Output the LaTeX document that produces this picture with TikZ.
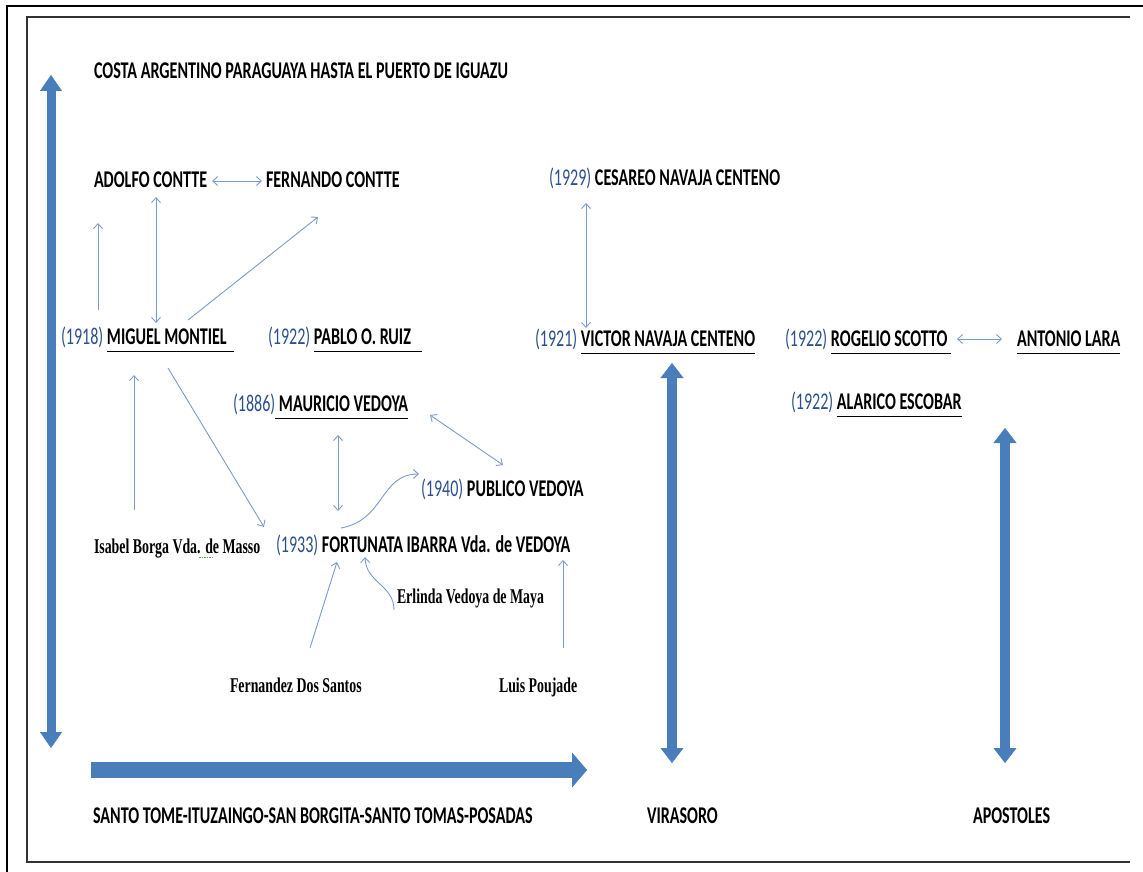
\documentclass[tikz,border=0pt]{standalone}
\usepackage{fontspec}
\setmainfont{Carlito}[FakeStretch=0.67]
\newfontfamily\timesf{Liberation Serif}[FakeStretch=0.66]
\usetikzlibrary{arrows.meta,calc}
\definecolor{yearblue}{RGB}{45,80,140}
\definecolor{thinblue}{RGB}{125,155,200}
\definecolor{thickblue}{RGB}{74,126,187}
\definecolor{spellgreen}{RGB}{90,170,90}
\newcommand\yr[1]{{\mdseries\color{yearblue}#1}}
\newcommand\undl[1]{\setbox0\hbox{#1}\rlap{\rule[-8pt]{\wd0}{1pt}}\box0}
\tikzset{
  lbl/.style={anchor=base west, inner sep=0pt, outer sep=0pt, font=\fontsize{24}{26}\selectfont\bfseries},
  ser/.style={anchor=base west, inner sep=0pt, outer sep=0pt, font=\fontsize{21}{23}\selectfont\timesf\bfseries},
  thinarr/.style={draw=thinblue, line width=0.9pt, -{Straight Barb[length=5pt,width=9pt]}},
  thinboth/.style={draw=thinblue, line width=0.9pt, {Straight Barb[length=5pt,width=9pt]}-{Straight Barb[length=5pt,width=9pt]}},
  bigboth/.style={draw=thickblue, line width=10pt, {Triangle[width=23pt,length=15pt,line width=0.4pt]}-{Triangle[width=23pt,length=15pt,line width=0.4pt]}},
  leftboth/.style={draw=thickblue, line width=9pt, {Triangle[width=22pt,length=16pt,line width=0.4pt]}-{Triangle[width=22pt,length=16pt,line width=0.4pt]}},
  bigright/.style={draw=thickblue, line width=16pt, -{Triangle[width=35pt,length=15pt,line width=0.4pt]}},
  frame/.style={line width=1.2pt, black}
}
\begin{document}
\begin{tikzpicture}[x=1pt,y=-1pt]
\useasboundingbox (0,0) rectangle (1143,872);
% frames
\draw[frame] (7,872) -- (7,6) -- (1143,6);
\draw[line width=1.8pt, black!80] (1130,17) -- (27,17) -- (27,862) -- (1130,862);

% labels
\node[lbl] (costa) at (94,79) {COSTA ARGENTINO PARAGUAYA HASTA EL PUERTO DE IGUAZU};
\node[lbl] (adolfo) at (94,187) {ADOLFO CONTTE};
\node[lbl] (fernando) at (266,187) {FERNANDO CONTTE};
\node[lbl] (cesareo) at (549,185) {\yr{(1929)} CESAREO NAVAJA CENTENO};
\node[lbl] (miguel) at (61,344) {\yr{(1918)} \undl{MIGUEL MONTIEL\ \ }};
\node[lbl] (pablo) at (268,344) {\yr{(1922)} \undl{PABLO O. RUIZ\ \ \ }};
\node[lbl] (victor) at (535,346) {\yr{(1921)} \undl{VICTOR NAVAJA CENTENO}};
\node[lbl] (rogelio) at (785,346) {\yr{(1922)} \undl{ROGELIO SCOTTO\ }};
\node[lbl] (antonio) at (1017,346) {\undl{ANTONIO LARA}};
\node[lbl] (mauricio) at (233,411) {\yr{(1886)}\undl{\ MAURICIO VEDOYA}};
\node[lbl] (alarico) at (791,409) {\yr{(1922)} \undl{ALARICO ESCOBAR}};
\node[lbl] (publico) at (421,496) {\yr{(1940)} PUBLICO VEDOYA};
\node[lbl] (fortunata) at (276,552) {\yr{(1933)} FORTUNATA IBARRA Vda. de VEDOYA};
\node[ser] (isabel) at (94,553) {Isabel Borga Vda. de Masso};
\node[ser] (erlinda) at (397,603) {Erlinda Vedoya de Maya};
\node[ser] (fernandez) at (230,692) {Fernandez Dos Santos};
\node[ser] (luis) at (499,692) {Luis Poujade};
\node[lbl] (santo) at (93,823) {SANTO TOME-ITUZAINGO-SAN BORGITA-SANTO TOMAS-POSADAS};
\node[lbl] (virasoro) at (647,823) {VIRASORO};
\node[lbl] (apostoles) at (973,823) {APOSTOLES};

% spell-check mark under "de"
\draw[spellgreen, line width=0.8pt, dash pattern=on 1.5pt off 1pt] ($(isabel.base west)+(105,4)$) -- ($(isabel.base west)+(118,4)$);

% thick arrows
\draw[leftboth] ($(costa.base west)+(-43,-4)$) -- ($(santo.base west)+(-42,-75)$);
\draw[bigright] ($(santo.base west)+(-2,-53)$) -- ($(santo.base west)+(494,-53)$);
\draw[bigboth] ($(victor.base west)+(137,17)$) -- ($(virasoro.base west)+(25,-60)$);
\draw[bigboth] ($(alarico.base west)+(214,19)$) -- ($(apostoles.base west)+(32,-60)$);

% thin arrows
\draw[thinboth] ($(adolfo.base west)+(118,-6)$) -- ($(fernando.base west)+(-4,-6)$);
\draw[thinarr] ($(miguel.base west)+(37,-34)$) -- ($(adolfo.base west)+(4,36)$);
\draw[thinboth] ($(adolfo.base west)+(62,10)$) -- ($(miguel.base west)+(95,-21)$);
\draw[thinarr] ($(miguel.base west)+(127,-24)$) -- ($(fernando.base west)+(52,30)$);
\draw[thinarr] ($(miguel.base west)+(107,24)$) -- ($(fortunata.base west)+(-12,-25)$);
\draw[thinarr] ($(isabel.base west)+(40,-43)$) -- ($(miguel.base west)+(73,31)$);
\draw[thinboth] ($(mauricio.base west)+(105,24)$) -- ($(fortunata.base west)+(62,-41)$);
\draw[thinboth] ($(mauricio.base west)+(197,4)$) -- ($(publico.base west)+(82,-31)$);
\draw[thinarr] ($(fortunata.base west)+(65,-24)$) .. controls ($(fortunata.base west)+(109,-32)$) and ($(publico.base west)+(-41,-22)$) .. ($(publico.base west)+(-2,-22)$);
\draw[thinarr] ($(fernandez.base west)+(80,-44)$) -- ($(fortunata.base west)+(61,10)$);
\draw[thinarr] ($(erlinda.base west)+(-3,7)$) .. controls ($(erlinda.base west)+(-3,-18)$) and ($(fortunata.base west)+(90,31)$) .. ($(fortunata.base west)+(89,5)$);
\draw[thinarr] ($(luis.base west)+(64,-44)$) -- ($(fortunata.base west)+(287,8)$);
\draw[thinboth] ($(cesareo.base west)+(37,18)$) -- ($(victor.base west)+(51,-18)$);
\draw[thinboth] ($(rogelio.base west)+(172,-7)$) -- ($(antonio.base west)+(-15,-7)$);
\end{tikzpicture}
\end{document}
